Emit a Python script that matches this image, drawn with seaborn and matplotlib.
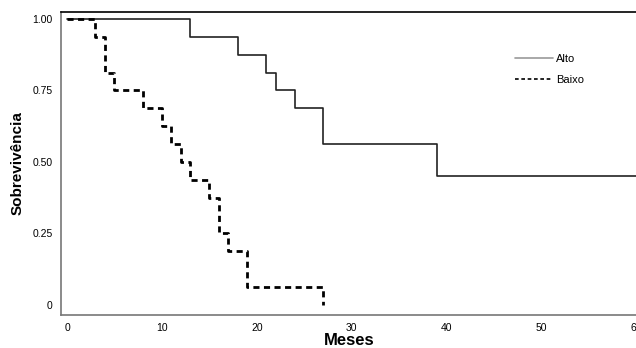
import pandas as pd
import seaborn as sns
import matplotlib.pyplot as plt

# Kaplan-Meier curves (steps-post: value holds from each time onward)
alto_tempo = [0, 13, 18, 21, 22, 24, 27, 39, 60]
alto_sobrev = [1.0, 0.9375, 0.875, 0.8125, 0.75, 0.6875, 0.5625, 0.45, 0.45]
baixo_tempo = [0, 3, 4, 5, 8, 10, 11, 12, 13, 15, 16, 17, 19, 27]
baixo_sobrev = [1.0, 0.9375, 0.8125, 0.75, 0.6875, 0.625, 0.5625, 0.5,
                0.4375, 0.375, 0.25, 0.1875, 0.0625, 0.0]

x_ticks = [0, 10, 20, 30, 40, 50, 60]
y_ticks = [0, 0.25, 0.5, 0.75, 1.0]
y_labels = ["0", "0.25", "0.50", "0.75", "1.00"]

df = pd.concat([
    pd.DataFrame({"Meses": alto_tempo, "Sobrev": alto_sobrev, "grupo": "Alto"}),
    pd.DataFrame({"Meses": baixo_tempo, "Sobrev": baixo_sobrev, "grupo": "Baixo"}),
])

sns.set_style("white")
plt.rcParams["font.family"] = ["Liberation Sans", "DejaVu Sans"]
plt.rcParams["text.color"] = "black"
plt.rcParams["axes.labelcolor"] = "black"
plt.rcParams["xtick.color"] = "black"
plt.rcParams["ytick.color"] = "black"

fig = plt.figure(figsize=(6.36, 3.48), dpi=100)
ax = fig.add_axes([0.096, 0.095, 0.906, 0.871])

sns.lineplot(data=df[df.grupo == "Alto"], x="Meses", y="Sobrev", estimator=None,
             drawstyle="steps-post", color="#222222", linewidth=1.2,
             label="Alto", ax=ax)
sns.lineplot(data=df[df.grupo == "Baixo"], x="Meses", y="Sobrev", estimator=None,
             drawstyle="steps-post", color="black", linewidth=2.0,
             linestyle=(0, (2.2, 1.6)), label="Baixo", ax=ax)

ax.set_xlim(-0.63, 60.1)
ax.set_ylim(-0.035, 1.025)
ax.set_xticks(x_ticks)
ax.set_yticks(y_ticks)
ax.set_yticklabels(y_labels)
ax.tick_params(axis="both", labelsize=7.5, length=3, width=0.8, color="#555555",
               direction="out", pad=3)
ax.tick_params(axis="y", pad=3)

ax.set_xlabel("Meses", fontsize=12, fontweight="bold", labelpad=0)
ax.set_ylabel("Sobrevivência", fontsize=11, fontweight="bold", labelpad=6)

for s in ["left", "bottom"]:
    ax.spines[s].set_color("#777777")
    ax.spines[s].set_linewidth(1.2)
ax.spines["top"].set_color("black")
ax.spines["top"].set_linewidth(1.2)
ax.spines["right"].set_visible(False)

leg = ax.legend(loc="upper left", bbox_to_anchor=(0.77, 0.895), frameon=False,
                fontsize=8, handlelength=3.4, handletextpad=0.3, labelspacing=1.0)
leg.get_lines()[0].set_color("#999999")
leg.get_lines()[0].set_linewidth(1.2)
leg.get_lines()[1].set_linewidth(1.2)

fig.savefig("out.png", dpi=100)
